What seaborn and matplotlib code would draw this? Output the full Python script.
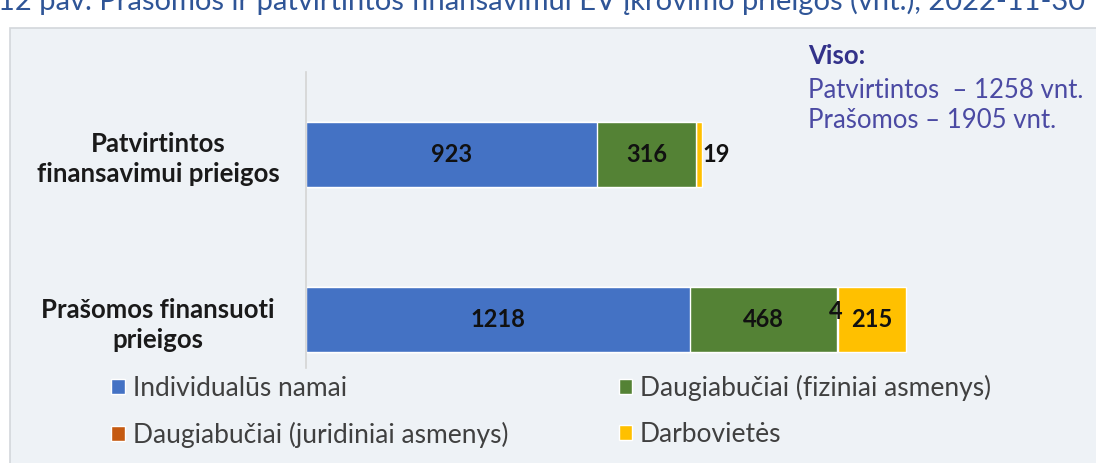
import numpy as np
import pandas as pd
import matplotlib.pyplot as plt
import seaborn as sns
from matplotlib.patches import Patch, Rectangle

# Data
categories = ['Patvirtintos\nfinansavimui prieigos', 'Prašomos finansuoti\nprieigos']
series_names = ['Individualūs namai', 'Daugiabučiai (fiziniai asmenys)',
                'Daugiabučiai (juridiniai asmenys)', 'Darbovietės']
individual = [923, 1218]
fiziniai = [316, 468]
juridiniai = [0, 4]
darbovietes = [19, 215]
colors = ['#4472C4', '#548235', '#C55A11', '#FFC000']

title = '12 pav. Prašomos ir patvirtintos finansavimui EV įkrovimo prieigos (vnt.), 2022-11-30'
totals_text = ['Patvirtintos  \u2013 1258 vnt.', 'Prašomos \u2013 1905 vnt.']

sns.set_theme(style='white')
plt.rcParams['font.family'] = ['Lato', 'DejaVu Sans']

panel = '#eef2f6'
fig = plt.figure(figsize=(10.96, 4.63), dpi=100)
fig.patch.set_facecolor('white')
fig.patches.append(Rectangle((10 / 1096, -0.01), 1.0, 1 - 28 / 463 + 0.01,
                             transform=fig.transFigure, facecolor=panel,
                             edgecolor='#d3d7db', linewidth=1.2, zorder=-5))

ax = fig.add_axes([306 / 1096, 1 - 402 / 463, 693 / 1096, 330 / 463])
ax.set_facecolor('none')

df = pd.DataFrame({'cat': categories, 's0': individual, 's1': fiziniai,
                   's2': juridiniai, 's3': darbovietes})
cols = ['s0', 's1', 's2', 's3']
cum = df[cols].cumsum(axis=1)

# stacked bars: draw cumulative totals from the outermost segment inward
for i in reversed(range(4)):
    sns.barplot(x=cum[cols[i]], y=df['cat'], color=colors[i], orient='h',
                width=0.39, saturation=1, ax=ax, zorder=2)

ax.set_xlim(0, 2200)
ax.set_ylim(1.5, -0.5)
ax.set_xlabel('')
ax.set_ylabel('')
ax.set_xticks([])
for s in ['top', 'right', 'bottom']:
    ax.spines[s].set_visible(False)
ax.spines['left'].set_color('#d4d4d4')
ax.spines['left'].set_linewidth(1.2)
ax.set_yticks(range(len(categories)))
ax.set_yticklabels(categories, fontsize=18.5, fontweight='bold', color='#1a1a1a',
                   ha='center', linespacing=1.3)
# pad in points: label centre ~148 px left of the axis
ax.tick_params(axis='y', which='major', length=0, pad=148 * 0.72)
ax.set_yticks([-0.5, 0.5, 1.5], minor=True)
ax.tick_params(axis='y', which='minor', length=6, color='#d4d4d4', width=1.2)

# value labels
lab_kw = dict(fontsize=17, fontweight='bold', color='#111111', va='center')
for r in range(len(categories)):
    left = 0
    for i, c in enumerate(cols):
        v = df.loc[r, c]
        if v == 0:
            continue
        if v < 30 and i == 3:
            ax.text(left + v + 1, r, str(v), ha='left', **lab_kw)
        elif v < 30:
            ax.text(left - 4, r - 0.05, str(v), ha='center', **lab_kw)
        else:
            ax.text(left + v / 2, r, str(v), ha='center', **lab_kw)
        left += v

# totals box
fig.text(808 / 1096, 1 - 56 / 463, 'Viso:', fontsize=18.5, fontweight='bold',
         color='#33328a', va='center', ha='left')
for k, t in enumerate(totals_text):
    fig.text(808 / 1096, 1 - (90 + 31 * k) / 463, t, fontsize=18.5,
             color='#4b4aa3', va='center', ha='left')

# title, cut off at the top edge as in the reference
fig.text(-0.002, 1 - 1 / 463, title, fontsize=21, color='#2f5597',
         va='center', ha='left')

handles = [Patch(facecolor=colors[0]), Patch(facecolor=colors[2]),
           Patch(facecolor=colors[1]), Patch(facecolor=colors[3])]
labels = [series_names[0], series_names[2], series_names[1], series_names[3]]
leg = fig.legend(handles, labels, loc='upper left',
                 bbox_to_anchor=(93 / 1096, 1 - 356 / 463), ncol=2,
                 frameon=True, facecolor=panel, edgecolor=panel, framealpha=1,
                 fontsize=19, handlelength=0.5, handleheight=0.5,
                 handletextpad=0.3, columnspacing=4.2, labelspacing=0.8,
                 borderpad=0.2)
for t in leg.get_texts():
    t.set_color('#404040')

fig.savefig('out.png', dpi=100, facecolor=fig.get_facecolor())
